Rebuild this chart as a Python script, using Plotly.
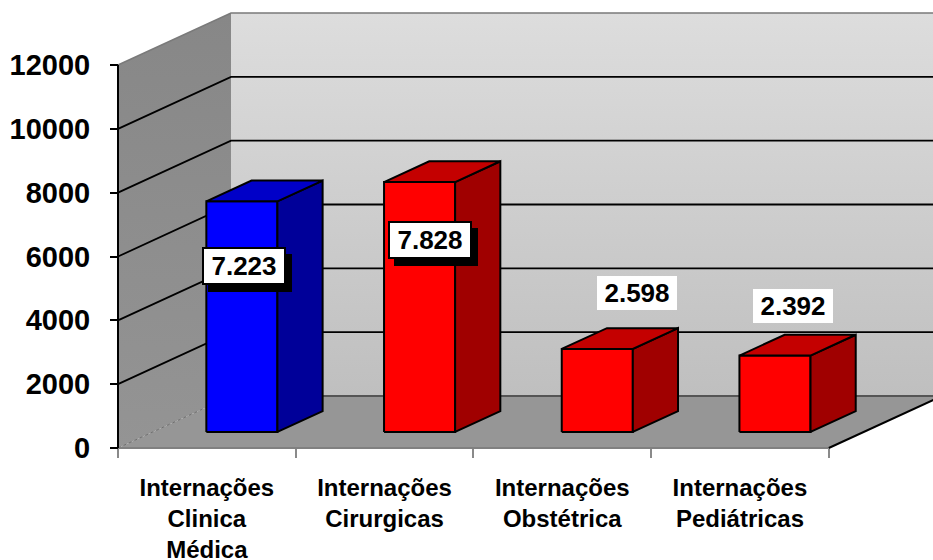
import plotly.graph_objects as go

# ---------------- data ----------------
categories = [
    "Internações<br>Clinica<br>Médica",
    "Internações<br>Cirurgicas",
    "Internações<br>Obstétrica",
    "Internações<br>Pediátricas",
]
values = [7223, 7828, 2598, 2392]
value_labels = ["7.223", "7.828", "2.598", "2.392"]
y_ticks = [0, 2000, 4000, 6000, 8000, 10000, 12000]
y_max = 12000

# ---------------- styles ----------------
front_colors = ["#0000ff", "#ff0000", "#ff0000", "#ff0000"]
side_colors = ["#000099", "#a00000", "#a00000", "#a00000"]
top_colors = ["#0000c8", "#c40000", "#c40000", "#c40000"]
label_boxed = [True, True, False, False]
label_shift = [(2, -65), (10, -58), (40, 56), (18, 50)]  # px offsets of value labels

FONT = "Liberation Sans, Arial, sans-serif"

# ---------------- geometry (pseudo-3D oblique projection) ----------------
W, H = 933, 560
ML, MR, MT, MB = 110, 0, 5, 108
X0PX, Y0PX = 118, 448          # pixel of the front-left-bottom corner
CATPX = 177.7                  # px per category
UNITPX = 383 / 12000           # px per value unit
DEPTH_PX = (113, -52)          # depth vector in px
DX = DEPTH_PX[0] / CATPX
DY = -DEPTH_PX[1] / UNITPX
F0, F1 = 0.31, 0.71            # bar front/back depth
HALF = 0.2                     # half bar width (category units)
NCAT = len(categories)

plot_w = W - ML - MR
plot_h = H - MT - MB
x_range = [(ML - X0PX) / CATPX, (W - MR - X0PX) / CATPX]
y_range = [-(H - MB - Y0PX) / UNITPX, (Y0PX - MT) / UNITPX]


def proj(x, v, d):
    return x + d * DX, v + d * DY


fig = go.Figure()


def poly(pts, fill, line_color="black", width=2, gradient=None, dash="solid"):
    xs, ys = [], []
    for p in pts + [pts[0]]:
        px, py = proj(*p)
        xs.append(px)
        ys.append(py)
    kw = {}
    if gradient is not None:
        kw["fillgradient"] = gradient
    fig.add_trace(go.Scatter(
        x=xs, y=ys, mode="lines", fill="toself", fillcolor=fill,
        line=dict(color=line_color, width=width, dash=dash),
        hoverinfo="skip", showlegend=False, **kw))


def line(pts, color, width=1.5, dash="solid"):
    xs, ys = [], []
    for p in pts:
        if p is None:
            xs.append(None)
            ys.append(None)
        else:
            px, py = proj(*p)
            xs.append(px)
            ys.append(py)
    fig.add_trace(go.Scatter(
        x=xs, y=ys, mode="lines", line=dict(color=color, width=width, dash=dash),
        hoverinfo="skip", showlegend=False))


XFAR = NCAT + 1.5

# back wall
poly([(0, 0, 1), (XFAR, 0, 1), (XFAR, y_max, 1), (0, y_max, 1)], "#cccccc", width=0,
     gradient=dict(type="vertical", colorscale=[[0, "#bfbfbf"], [1, "#dddddd"]]))
# left wall
poly([(0, 0, 0), (0, 0, 1), (0, y_max, 1), (0, y_max, 0)], "#8e8e8e", width=0,
     gradient=dict(type="vertical", colorscale=[[0, "#949494"], [1, "#878787"]]))
# floor
poly([(0, 0, 0), (NCAT, 0, 0), (NCAT, 0, 1), (0, 0, 1)], "#969696", width=0)

# gridlines (left wall + back wall)
grid = []
for v in y_ticks[1:-1]:
    grid += [(0, v, 0), (0, v, 1), (XFAR, v, 1), None]
line(grid, "black", 1.8)
# top edges
line([(0, y_max, 0), (0, y_max, 1), (XFAR, y_max, 1)], "#7a7a7a", 1.5)
# floor / back wall junction
line([(0, 0, 1), (XFAR, 0, 1)], "#555555", 2)
# left wall bottom edge
line([(0, 0, 0), (0, 0, 1)], "#6e6e6e", 1, dash="dot")
# floor front edge and right edge
line([(0, 0, 0), (NCAT, 0, 0)], "#808080", 2)
line([(NCAT, 0, 0), (NCAT, 0, 1)], "black", 2)
# y axis line
line([(0, 0, 0), (0, y_max, 0)], "black", 2)

# bars
for i, v in enumerate(values):
    c = i + 0.5
    l, r = c - HALF, c + HALF
    poly([(l, 0, F0), (r, 0, F0), (r, v, F0), (l, v, F0)], front_colors[i])
    poly([(r, 0, F0), (r, 0, F1), (r, v, F1), (r, v, F0)], side_colors[i])
    poly([(l, v, F0), (r, v, F0), (r, v, F1), (l, v, F1)], top_colors[i])

# value labels
LABEL_FONT = dict(family=FONT, size=26, color="black", weight="bold")
annotations = []
for i, v in enumerate(values):
    ax, ay = proj(i + 0.5, v, F0)
    sx, sy = label_shift[i]
    common = dict(x=ax, y=ay, xref="x", yref="y", showarrow=False,
                  width=80, height=34, borderpad=0, align="center", valign="middle")
    if label_boxed[i]:
        annotations.append(dict(text=value_labels[i], xshift=sx + 6, yshift=sy - 7,
                                bgcolor="black", bordercolor="black", borderwidth=2,
                                font=LABEL_FONT, **common))
        annotations.append(dict(text=value_labels[i], xshift=sx, yshift=sy,
                                bgcolor="white", bordercolor="black", borderwidth=2,
                                font=LABEL_FONT, **common))
    else:
        annotations.append(dict(text=value_labels[i], xshift=sx, yshift=sy,
                                bgcolor="white", borderwidth=0, font=LABEL_FONT, **common))

fig.update_layout(
    width=W, height=H, autosize=False,
    margin=dict(l=ML, r=MR, t=MT, b=MB, pad=0, autoexpand=False),
    paper_bgcolor="white", plot_bgcolor="white",
    showlegend=False,
    annotations=annotations,
    xaxis=dict(
        range=x_range, showgrid=False, zeroline=False, showline=False,
        anchor="free", position=(H - MB - Y0PX) / plot_h,
        tickmode="array", tickvals=[i + 0.5 for i in range(NCAT)], ticktext=categories,
        ticks="", ticklabelstandoff=23,
        tickfont=dict(family=FONT, size=24, color="black", weight="bold"),
        minor=dict(tickmode="array", tickvals=list(range(NCAT + 1)), ticks="outside",
                   ticklen=9, tickwidth=2, tickcolor="#8a8a8a", showgrid=False),
        fixedrange=True,
    ),
    yaxis=dict(
        range=y_range, showgrid=False, zeroline=False, showline=False,
        anchor="free", position=(X0PX - ML) / plot_w,
        tickmode="array", tickvals=y_ticks, ticktext=[str(t) for t in y_ticks],
        ticks="outside", ticklen=8, tickwidth=2, tickcolor="black",
        ticklabelstandoff=14,
        tickfont=dict(family=FONT, size=29, color="black", weight="bold"),
        fixedrange=True,
    ),
)

fig.write_html("out.html", config={"displayModeBar": False},
               post_script="document.body.style.margin='0';")
